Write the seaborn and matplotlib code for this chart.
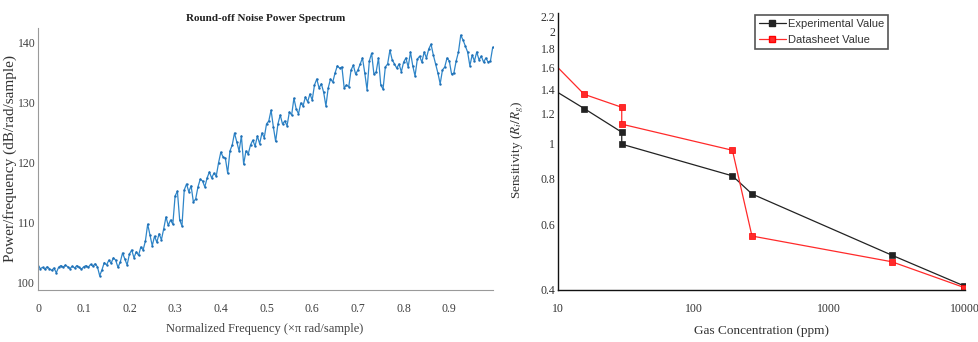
import numpy as np
import pandas as pd
import matplotlib
matplotlib.use("Agg")
import matplotlib.pyplot as plt
import matplotlib.ticker as mticker
from matplotlib.lines import Line2D
import seaborn as sns

# ---------------- data: left panel (noise power spectrum) ----------------
freq_step = 0.005
power_db = [
    102.8, 102.4, 102.6, 102.3, 102.7, 102.4, 102.1, 102.5, 101.7, 102.6,
    102.9, 102.6, 103.0, 102.7, 102.4, 102.8, 102.5, 102.9, 102.6, 102.3,
    102.7, 102.9, 102.6, 103.1, 102.8, 103.2, 102.7, 101.2, 102.2, 103.4,
    103.0, 103.8, 103.3, 104.2, 103.8, 102.6, 103.5, 105.0, 104.0, 103.0,
    104.8, 105.5, 104.2, 105.2, 104.6, 106.0, 105.5, 107.0, 109.8, 108.0,
    106.2, 107.8, 106.8, 108.2, 107.2, 109.0, 111.0, 109.6, 110.5, 109.8,
    114.5, 115.3, 110.5, 109.5, 115.5, 116.5, 115.2, 116.2, 113.5, 114.0,
    116.0, 117.3, 117.0, 116.0, 117.5, 118.5, 117.5, 118.3, 117.8, 120.0,
    121.8, 121.0, 120.8, 118.3, 122.0, 123.0, 125.0, 123.5, 122.0, 124.5,
    119.8, 122.0, 121.5, 123.0, 123.8, 122.8, 124.5, 123.2, 125.0, 124.2,
    126.5, 127.0, 128.8, 126.0, 123.6, 126.5, 128.0, 126.5, 127.0, 126.2,
    128.5, 128.0, 130.8, 129.0, 128.2, 130.0, 129.5, 131.0, 130.2, 131.5,
    130.5, 133.0, 134.0, 132.5, 133.2, 131.8, 129.5, 132.5, 134.0, 133.5,
    135.0, 136.2, 135.8, 136.0, 132.5, 133.0, 132.7, 135.5, 136.3, 134.8,
    135.5, 136.5, 137.5, 135.0, 132.2, 137.0, 138.3, 134.8, 135.2, 137.5,
    133.0, 132.3, 136.0, 136.5, 138.8, 137.2, 136.5, 135.8, 136.5, 135.2,
    136.8, 137.5, 136.0, 138.5, 136.2, 134.5, 137.3, 137.8, 136.8, 138.5,
    137.5, 139.0, 139.8, 138.0, 136.5, 135.0, 133.2, 135.5, 136.0, 137.5,
    137.0, 134.8, 135.0, 137.0, 138.5, 141.3, 140.5, 139.5, 138.5, 136.2,
    138.0, 137.0, 138.5, 137.2, 137.8, 136.8, 137.5, 136.8, 137.0, 139.3,
]
norm_freq = np.round(np.arange(len(power_db)) * freq_step, 3)
left_xticks = [0, 0.1, 0.2, 0.3, 0.4, 0.5, 0.6, 0.7, 0.8, 0.9]
left_xticklabels = ["0", "0.1", "0.2", "0.3", "0.4", "0.5", "0.6", "0.7", "0.8", "0.9"]
left_yticks = [100, 110, 120, 130, 140]

# ---------------- data: right panel (sensitivity) ----------------
exp_conc = [10, 15.6, 29.5, 29.5, 193, 269, 2890, 9900]
exp_sens = [1.37, 1.24, 1.07, 0.993, 0.815, 0.728, 0.497, 0.41]
ds_conc = [10, 15.6, 29.5, 29.5, 193, 269, 2890, 9900]
ds_sens = [1.60, 1.355, 1.25, 1.125, 0.956, 0.56, 0.477, 0.406]
right_yticks = [0.4, 0.6, 0.8, 1.0, 1.2, 1.4, 1.6, 1.8, 2.0, 2.2]
right_yticklabels = ["0.4", "0.6", "0.8", "1", "1.2", "1.4", "1.6", "1.8", "2", "2.2"]
right_xticks = [10, 100, 1000, 10000]
right_xticklabels = ["10", "100", "1000", "10000"]
series_names = ["Experimental Value", "Datasheet Value"]

sns.set_theme(style="white")
plt.rcParams["font.family"] = ["Liberation Serif", "DejaVu Serif"]
plt.rcParams["mathtext.fontset"] = "stix"

W, H = 979, 342
fig = plt.figure(figsize=(W / 100, H / 100), dpi=100)
fig.patch.set_facecolor("white")

def ax_rect(x0, y0, x1, y1):
    return [x0 / W, 1 - y1 / H, (x1 - x0) / W, (y1 - y0) / H]

# ---------------- left panel ----------------
axL = fig.add_axes(ax_rect(38, 28, 493, 290))
sns.lineplot(x=norm_freq, y=power_db, ax=axL, color="#2f86c9", linewidth=0.9,
             marker=".", markersize=3.5, markeredgewidth=0, markerfacecolor="#1f6fb5",
             estimator=None)
axL.set_xlim(0, 0.9956)
axL.set_ylim(98.83, 142.5)
axL.set_xticks(left_xticks)
axL.set_xticklabels(left_xticklabels)
axL.set_yticks(left_yticks)
for s in ["top", "right"]:
    axL.spines[s].set_visible(False)
for s in ["left", "bottom"]:
    axL.spines[s].set_color("#9a9a9a")
    axL.spines[s].set_linewidth(0.8)
axL.tick_params(axis="both", direction="in", length=6, width=0.8, color="#b5b5b5",
                labelcolor="#404040", labelsize=8.5)
axL.tick_params(axis="x", pad=9)
axL.tick_params(axis="y", pad=2)
axL.set_title("Round-off Noise Power Spectrum", fontsize=8, fontweight="bold",
              color="#222222", pad=5)
axL.set_xlabel("Normalized Frequency (×π rad/sample)", fontsize=9, color="#404040")
axL.xaxis.set_label_coords(0.499, -0.127)
axL.set_ylabel("Power/frequency (dB/rad/sample)", fontsize=11, color="#333333")
axL.yaxis.set_label_coords((17 - 38) / 455, 0.5)

# ---------------- right panel ----------------
axR = fig.add_axes(ax_rect(558, 13, 965, 290))
sns.lineplot(x=exp_conc, y=exp_sens, ax=axR, color="#222222", linewidth=0.9,
             marker="s", markersize=5, markeredgewidth=0.5, markeredgecolor="#222222",
             markevery=list(range(1, len(exp_conc))), sort=False, estimator=None)
sns.lineplot(x=ds_conc, y=ds_sens, ax=axR, color="#ff2a2a", linewidth=0.9,
             marker="s", markersize=5, markeredgewidth=0.5, markeredgecolor="#ff0000",
             markevery=list(range(1, len(ds_conc))), sort=False, estimator=None)
axR.set_xscale("log")
axR.set_yscale("log")
axR.set_xlim(10, 10000)
axR.set_ylim(0.4, 2.25)
axR.set_xticks(right_xticks)
axR.set_xticklabels(right_xticklabels)
axR.xaxis.set_minor_locator(mticker.LogLocator(base=10, subs=np.arange(2, 10)))
axR.xaxis.set_minor_formatter(mticker.NullFormatter())
axR.set_yticks(right_yticks)
axR.set_yticklabels(right_yticklabels)
axR.yaxis.set_minor_locator(mticker.FixedLocator(np.round(np.arange(0.42, 2.25, 0.02), 2)))
axR.yaxis.set_minor_formatter(mticker.NullFormatter())
for s in ["top", "right"]:
    axR.spines[s].set_visible(False)
for s in ["left", "bottom"]:
    axR.spines[s].set_color("#111111")
    axR.spines[s].set_linewidth(1.0)
axR.tick_params(axis="both", which="major", direction="in", length=5, width=0.9,
                color="#111111", labelcolor="#333333", labelsize=8.5)
axR.tick_params(axis="both", which="minor", direction="in", length=2.5, width=0.7,
                color="#111111")
axR.tick_params(axis="x", which="major", pad=9.5)
axR.tick_params(axis="y", which="major", pad=2)
axR.set_xlabel("Gas Concentration (ppm)", fontsize=9.5, color="#333333")
axR.xaxis.set_label_coords(0.501, -0.127)
axR.set_ylabel(r"Sensitivity ($R_i/R_g$)", fontsize=9.5, color="#333333")
axR.yaxis.set_label_coords((526 - 558) / 407, 0.505)

handles = [
    Line2D([], [], color="#222222", linewidth=0.9, marker="s", markersize=5,
           markeredgecolor="#222222"),
    Line2D([], [], color="#ff2a2a", linewidth=0.9, marker="s", markersize=5,
           markeredgecolor="#ff0000"),
]
leg = axR.legend(handles, series_names, loc="upper left",
                 bbox_to_anchor=(755 / W, 1 - 15 / H),
                 bbox_transform=fig.transFigure, frameon=True, fancybox=False,
                 framealpha=1, edgecolor="#555555", borderpad=0.35, labelspacing=0.55,
                 handlelength=2.4, handletextpad=0.2, borderaxespad=0,
                 prop={"family": ["Liberation Sans", "DejaVu Sans"], "size": 8})
for t in leg.get_texts():
    t.set_color("#333333")
leg.get_frame().set_linewidth(1.2)

fig.savefig("out.png", dpi=100, facecolor="white")
